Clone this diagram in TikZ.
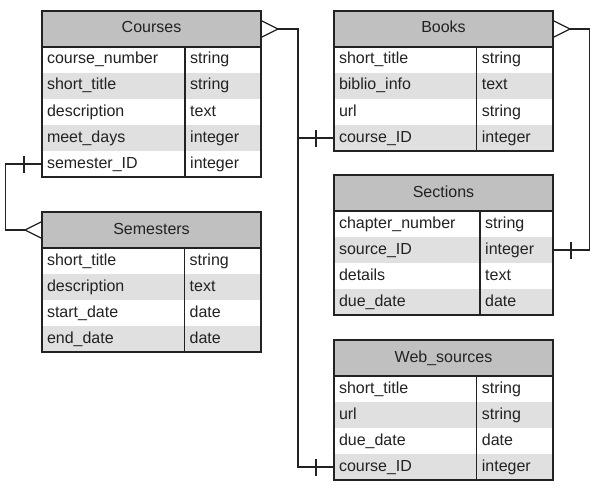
\documentclass[tikz,border=0pt]{standalone}
\usepackage{fontspec}
\setmainfont{Liberation Sans}
\usepackage{xcolor}
\definecolor{headgray}{RGB}{192,192,192}
\definecolor{rowgray}{RGB}{224,224,224}
\definecolor{inkgray}{RGB}{34,34,34}
\tikzset{
  tabline/.style={line width=1.3pt, color=inkgray},
  tabhead/.style={anchor=north west, draw=inkgray, line width=1.3pt, fill=headgray,
    minimum width=219pt, minimum height=36pt, inner sep=0pt, outer sep=0pt,
    text height=12pt, text depth=4pt},
  tabrow/.style={anchor=north west, text width=209pt, inner xsep=5pt, inner ysep=0pt,
    outer sep=0pt, minimum height=26pt, align=left, text height=12pt, text depth=4pt},
  tabtype/.style={anchor=west, inner xsep=5pt, inner ysep=0pt,
    text height=12pt, text depth=4pt},
  link/.style={line width=1.3pt, color=inkgray},
}
% name, x, y, divider, rows, title, fields
\newcommand{\ertable}[7]{
  \foreach \bg/\fld/\typ [count=\i] in {#7} {
    \node[tabrow, fill=\bg] (#1-\i) at (#2, #3+10+26*\i) {\fld};
    \node[tabtype] at (#2+#4, #3+23+26*\i) {\typ};
  }
  \node[tabhead] (#1) at (#2,#3) {#6};
  \draw[tabline] (#1.north west) rectangle (#1-#5.south east);
  \draw[tabline] (#2+#4, #3+36) -- (#2+#4, #3+36+26*#5);
}

\begin{document}
\begin{tikzpicture}[x=1pt, y=-1pt, font=\fontsize{16}{19}\selectfont, color=inkgray]
  \useasboundingbox (0,0) rectangle (600,495);

  \ertable{courses}{42}{11}{143}{5}{Courses}{white/course\_number/string,
    rowgray/short\_title/string, white/description/text,
    rowgray/meet\_days/integer, white/semester\_ID/integer}
  \ertable{semesters}{42}{212}{142.5}{4}{Semesters}{white/short\_title/string,
    rowgray/description/text, white/start\_date/date, rowgray/end\_date/date}
  \ertable{books}{334}{11}{142.7}{4}{Books}{white/short\_title/string,
    rowgray/biblio\_info/text, white/url/string, rowgray/course\_ID/integer}
  \ertable{sections}{334}{175}{146}{4}{Sections}{white/chapter\_number/string,
    rowgray/source\_ID/integer, white/details/text, rowgray/due\_date/date}
  \ertable{web}{334}{340}{142.7}{4}{Web\_sources}{white/short\_title/string,
    rowgray/url/string, white/due\_date/date, rowgray/course\_ID/integer}

  \draw[link] ([yshift=8.5pt]courses.east) -- ([xshift=17pt]courses.east)
    -- ([yshift=-8.5pt]courses.east);
  \draw[link] ([xshift=17pt]courses.east) -| ([xshift=-36pt]books-4.west) -- (books-4.west);
  \draw[link] ([xshift=-36pt]books-4.west) |- (web-4.west);
  \draw[link] ([xshift=-18pt,yshift=-8.5pt]books-4.west) -- ([xshift=-18pt,yshift=8.5pt]books-4.west);
  \draw[link] ([xshift=-18pt,yshift=-8.5pt]web-4.west) -- ([xshift=-18pt,yshift=8.5pt]web-4.west);

  \draw[link] ([yshift=8.5pt]books.east) -- ([xshift=17pt]books.east)
    -- ([yshift=-8.5pt]books.east);
  \draw[link] ([xshift=17pt]books.east) -| ([xshift=36.6pt]sections-2.east) -- (sections-2.east);
  \draw[link] ([xshift=18pt,yshift=-8.5pt]sections-2.east) -- ([xshift=18pt,yshift=8.5pt]sections-2.east);

  \draw[link] ([yshift=8.5pt]semesters.west) -- ([xshift=-17pt]semesters.west)
    -- ([yshift=-8.5pt]semesters.west);
  \draw[link] ([xshift=-17pt]semesters.west) -- ++(-19.7,0) |- (courses-5.west);
  \draw[link] ([xshift=-18pt,yshift=-8.5pt]courses-5.west) -- ([xshift=-18pt,yshift=8.5pt]courses-5.west);
\end{tikzpicture}
\end{document}
